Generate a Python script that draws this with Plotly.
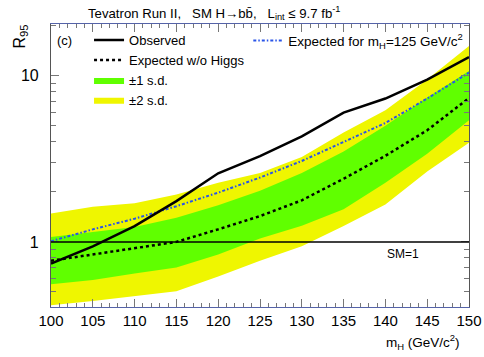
import math

import plotly.graph_objects as go

# Higgs mass points (GeV/c^2)
MASS = [100, 105, 110, 115, 120, 125, 130, 135, 140, 145, 150]

# 95% CL limit ratios
OBSERVED = [0.74, 0.94, 1.245, 1.76, 2.59, 3.28, 4.32, 6.0, 7.3, 9.5, 12.95]
EXPECTED_NO_HIGGS = [0.77, 0.84, 0.91, 1.0, 1.19, 1.43, 1.78, 2.4, 3.3, 4.7, 7.35]
EXPECTED_MH125 = [1.01, 1.19, 1.38, 1.64, 1.98, 2.44, 3.07, 4.0, 5.2, 7.3, 10.45]

ONE_SD_UP = [1.07, 1.15, 1.23, 1.40, 1.66, 2.03, 2.6, 3.5, 5.0, 7.4, 10.7]
ONE_SD_DOWN = [0.555, 0.59, 0.646, 0.70, 0.84, 1.05, 1.25, 1.57, 2.27, 3.4, 5.4]
TWO_SD_UP = [1.48, 1.63, 1.71, 1.93, 2.27, 2.6, 3.25, 4.55, 6.2, 9.5, 15.1]
TWO_SD_DOWN = [0.415, 0.44, 0.47, 0.505, 0.62, 0.77, 0.94, 1.245, 1.68, 2.65, 3.96]

SM_LEVEL = 1.0

MAJOR_Y = [1, 10]
MINOR_Y = [0.5, 0.6, 0.7, 0.8, 0.9, 2, 3, 4, 5, 6, 7, 8, 9, 20]

FONT = "Liberation Sans, Arial, sans-serif"
GREEN = "#60ff00"
YELLOW = "#eff600"


def band(upper, lower):
    return MASS + MASS[::-1], upper + lower[::-1]


fig = go.Figure()

x2, y2 = band(TWO_SD_UP, TWO_SD_DOWN)
fig.add_trace(go.Scatter(x=x2, y=y2, fill="toself", fillcolor=YELLOW, mode="lines",
                         line=dict(width=0, color="#888"), name="±2 s.d.", legendrank=4,
                         hoverinfo="skip"))
x1, y1 = band(ONE_SD_UP, ONE_SD_DOWN)
fig.add_trace(go.Scatter(x=x1, y=y1, fill="toself", fillcolor=GREEN, mode="lines",
                         line=dict(width=0, color="#888"), name="±1 s.d.", legendrank=3,
                         hoverinfo="skip"))

fig.add_hline(y=SM_LEVEL, line=dict(color="black", width=1.5))

fig.add_trace(go.Scatter(x=MASS, y=EXPECTED_NO_HIGGS, mode="lines", name="Expected w/o Higgs",
                         line=dict(color="black", width=2.5, dash="dot"), legendrank=2))
fig.add_trace(go.Scatter(x=MASS, y=EXPECTED_MH125, mode="lines",
                         name="Expected for m<sub>H</sub>=125 GeV/c<sup>2</sup>",
                         line=dict(color="#2a55e8", width=2, dash="3px,2px,1.5px,2px"),
                         legend="legend2"))
fig.add_trace(go.Scatter(x=MASS, y=OBSERVED, mode="lines", name="Observed",
                         line=dict(color="black", width=2.5), legendrank=1))

# log axis: annotation y is given in log10 units
fig.add_annotation(x=142.1, y=math.log10(SM_LEVEL), yshift=-12, text="SM=1", showarrow=False,
                   font=dict(size=12, color="black"))
fig.add_annotation(xref="paper", yref="paper", x=0.01, y=0.94, yanchor="middle", text="(c)",
                   showarrow=False, xanchor="left", font=dict(size=13, color="black"))
fig.add_annotation(xref="paper", yref="paper", x=0.39, y=1.0, yshift=11, yanchor="middle",
                   text="Tevatron Run II,   SM H→bb\u0304,   L<sub>int</sub> ≤ 9.7 fb<sup>-1</sup>",
                   showarrow=False, font=dict(size=13.2, color="black"))
fig.add_annotation(xref="paper", yref="paper", x=1.0, xshift=-7, y=0, yshift=-35,
                   xanchor="right", yanchor="middle", text="m<sub>H</sub> (GeV/c<sup>2</sup>)",
                   showarrow=False, font=dict(size=13.5, color="black"))
fig.add_annotation(xref="paper", yref="paper", x=0, xshift=-43, xanchor="left", y=1.0,
                   yshift=1, yanchor="top", text="R<sub>95</sub>", textangle=-90,
                   showarrow=False, font=dict(size=16, color="black"))

fig.update_layout(
    width=484, height=357,
    margin=dict(l=51, r=15, t=24, b=50, autoexpand=False),
    paper_bgcolor="white", plot_bgcolor="white",
    font=dict(family=FONT, color="black"),
    showlegend=True,
    legend=dict(x=0.091, y=0.996, xanchor="left", yanchor="top", bgcolor="rgba(0,0,0,0)",
                font=dict(size=13), tracegroupgap=0, traceorder="normal"),
    legend2=dict(x=0.472, y=0.996, xanchor="left", yanchor="top", bgcolor="rgba(0,0,0,0)",
                 font=dict(size=13.5)),
)

fig.update_xaxes(range=[100, 150], tickvals=MASS, ticks="inside", ticklen=8, tickcolor="#777",
                 showline=True, linecolor="#5563a8", linewidth=1.2, mirror="ticks",
                 showgrid=False, zeroline=False, tickfont=dict(size=15),
                 minor=dict(dtick=1, ticks="inside", ticklen=4, tickcolor="#777"))
fig.update_yaxes(type="log", range=[-0.392, 1.312], tickvals=MAJOR_Y, ticktext=["1", "10"],
                 ticks="inside", ticklen=8, tickcolor="#777", ticklabelstandoff=8,
                 showline=True, linecolor="#555", linewidth=1.2, mirror="ticks",
                 showgrid=False, zeroline=False, tickfont=dict(size=16),
                 minor=dict(tickvals=MINOR_Y, ticks="inside", ticklen=5, tickcolor="#777"))

fig.write_html("out.html", config={"displayModeBar": False},
               post_script="document.body.style.margin='0';")
